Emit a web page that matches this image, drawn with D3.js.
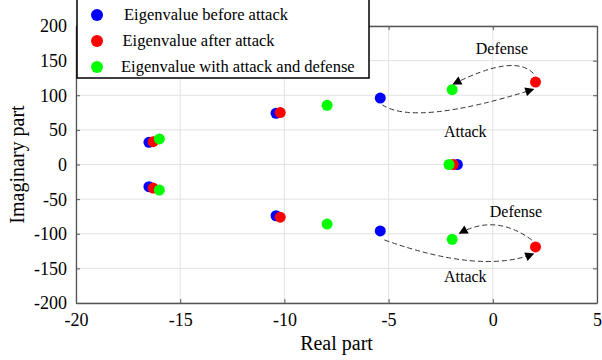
<!DOCTYPE html>
<html><head><meta charset="utf-8">
<script src="https://cdn.jsdelivr.net/npm/d3@7"></script>
<style>body{margin:0;background:#fff}svg{display:block}svg text{font-family:"Liberation Serif","Times New Roman",serif !important}</style>
</head><body>
<script>
// ---- data ----
const xTicks = [-20, -15, -10, -5, 0, 5];
const yTicks = [-200, -150, -100, -50, 0, 50, 100, 150, 200];
const seriesNames = ["Eigenvalue before attack", "Eigenvalue after attack", "Eigenvalue with attack and defense"];
const seriesColors = ["#0000ff", "#ff0000", "#00ff00"];
const beforeRe = [-16.5, -16.5, -10.4, -10.4, -5.4, -5.4, -1.7];
const beforeIm = [32, -32, 74, -74, 96, -96, 0];
const afterRe  = [-16.3, -16.3, -10.2, -10.2, 2.05, 2.05, -1.9];
const afterIm  = [33, -34, 75, -76, 119, -119, 0];
const defRe    = [-16.0, -16.0, -7.95, -7.95, -1.95, -1.95, -2.1];
const defIm    = [37, -37, 85.5, -86, 108, -108, 0];
// annotation arrows: [x0,y0, cx,cy, x1,y1] in data units
const arrows = [
  [-5.3, 86, -3.7, 55, 1.95, 108.5],
  [1.95, 131.5, 1.03, 160.5, -1.9, 116],
  [-5.2, -109, -0.58, -158.7, 1.95, -129],
  [1.87, -109, 0.14, -70.5, -1.6, -99.5]
];
const labels = ["Defense", "Attack", "Defense", "Attack"];
const labelX = [0.44, -1.32, 1.11, -1.32];
const labelY = [167.8, 47.4, -68.2, -161];

// ---- chart ----
const W = 602, H = 360;
const m = {left: 76, right: 5, top: 26, bottom: 57};
const svg = d3.select("body").append("svg").attr("width", W).attr("height", H);
const x = d3.scaleLinear().domain([-20, 5]).range([m.left, W - m.right]);
const y = d3.scaleLinear().domain([-200, 200]).range([H - m.bottom, m.top]);
const fmt = d => String(d);

// grid
svg.append("g").selectAll("line").data(xTicks).join("line")
  .attr("x1", d => x(d)).attr("x2", d => x(d)).attr("y1", y(-200)).attr("y2", y(200))
  .attr("stroke", "#e2e2e2").attr("stroke-width", 1);
svg.append("g").selectAll("line").data(yTicks).join("line")
  .attr("y1", d => y(d)).attr("y2", d => y(d)).attr("x1", x(-20)).attr("x2", x(5))
  .attr("stroke", "#e2e2e2").attr("stroke-width", 1);

// axes (ticks inward)
const ax = (g) => g.call(s => s.select(".domain").attr("stroke", "#555").attr("stroke-width", 1.3))
  .call(s => s.selectAll(".tick line").attr("stroke", "#555"));
const tickText = g => g.selectAll("text").attr("font-size", 18).attr("fill", "#000")
  .style("font-family", '"Liberation Serif", serif');
svg.append("g").attr("transform", `translate(0,${y(-200)})`)
  .call(d3.axisBottom(x).tickValues(xTicks).tickSize(-4).tickPadding(10).tickSizeOuter(0).tickFormat(fmt))
  .call(ax).call(tickText);
svg.append("g").attr("transform", `translate(${x(-20)},0)`)
  .call(d3.axisLeft(y).tickValues(yTicks).tickSize(-4).tickPadding(9).tickSizeOuter(0).tickFormat(fmt))
  .call(ax).call(tickText).call(g => g.selectAll("text").attr("dy", "0.33em"));
svg.append("g").attr("transform", `translate(0,${y(200)})`)
  .call(d3.axisTop(x).tickValues(xTicks).tickSize(-4).tickSizeOuter(0).tickFormat(""))
  .call(ax);
svg.append("g").attr("transform", `translate(${x(5)},0)`)
  .call(d3.axisRight(y).tickValues(yTicks).tickSize(-4).tickSizeOuter(0).tickFormat(""))
  .call(ax);

// axis titles
svg.append("text").attr("x", x(-7.5)).attr("y", 350).attr("text-anchor", "middle")
  .attr("font-size", 20).text("Real part");
svg.append("text").attr("transform", `translate(24,${y(0)}) rotate(-90)`).attr("text-anchor", "middle")
  .attr("font-size", 20).text("Imaginary part");

// points
const sets = [[beforeRe, beforeIm], [afterRe, afterIm], [defRe, defIm]];
sets.forEach((s, i) => {
  svg.append("g").selectAll("circle").data(s[0].map((v, j) => [v, s[1][j]])).join("circle")
    .attr("cx", d => x(d[0])).attr("cy", d => y(d[1])).attr("r", 5.5).attr("fill", seriesColors[i]);
});

// arrows
const defs = svg.append("defs");
defs.append("marker").attr("id", "ah").attr("viewBox", "0 0 10 10").attr("refX", 9).attr("refY", 5)
  .attr("markerWidth", 11).attr("markerHeight", 9).attr("markerUnits", "userSpaceOnUse").attr("orient", "auto")
  .append("path").attr("d", "M0,0 L10,5 L0,10 Z").attr("fill", "#000");
svg.append("g").selectAll("path").data(arrows).join("path")
  .attr("d", a => `M${x(a[0])},${y(a[1])} Q${x(a[2])},${y(a[3])} ${x(a[4])},${y(a[5])}`)
  .attr("fill", "none").attr("stroke", "#333").attr("stroke-width", 1).attr("stroke-dasharray", "5,3")
  .attr("marker-end", "url(#ah)");
svg.append("g").selectAll("text").data(labels).join("text")
  .attr("x", (d, i) => x(labelX[i])).attr("y", (d, i) => y(labelY[i])).attr("dy", "0.35em")
  .attr("text-anchor", "middle").attr("font-size", 16).text(d => d);

// legend
const lg = svg.append("g");
lg.append("rect").attr("x", 77).attr("y", -5).attr("width", 292).attr("height", 83)
  .attr("fill", "#fff").attr("stroke", "#000").attr("stroke-width", 1.5);
seriesNames.forEach((n, i) => {
  lg.append("circle").attr("cx", 97).attr("cy", 15 + i * 26).attr("r", 6).attr("fill", seriesColors[i]);
  lg.append("text").attr("x", 124 - i * 1.5).attr("y", 20 + i * 26).attr("font-size", 16.5).text(n);
});
</script>
</body></html>
